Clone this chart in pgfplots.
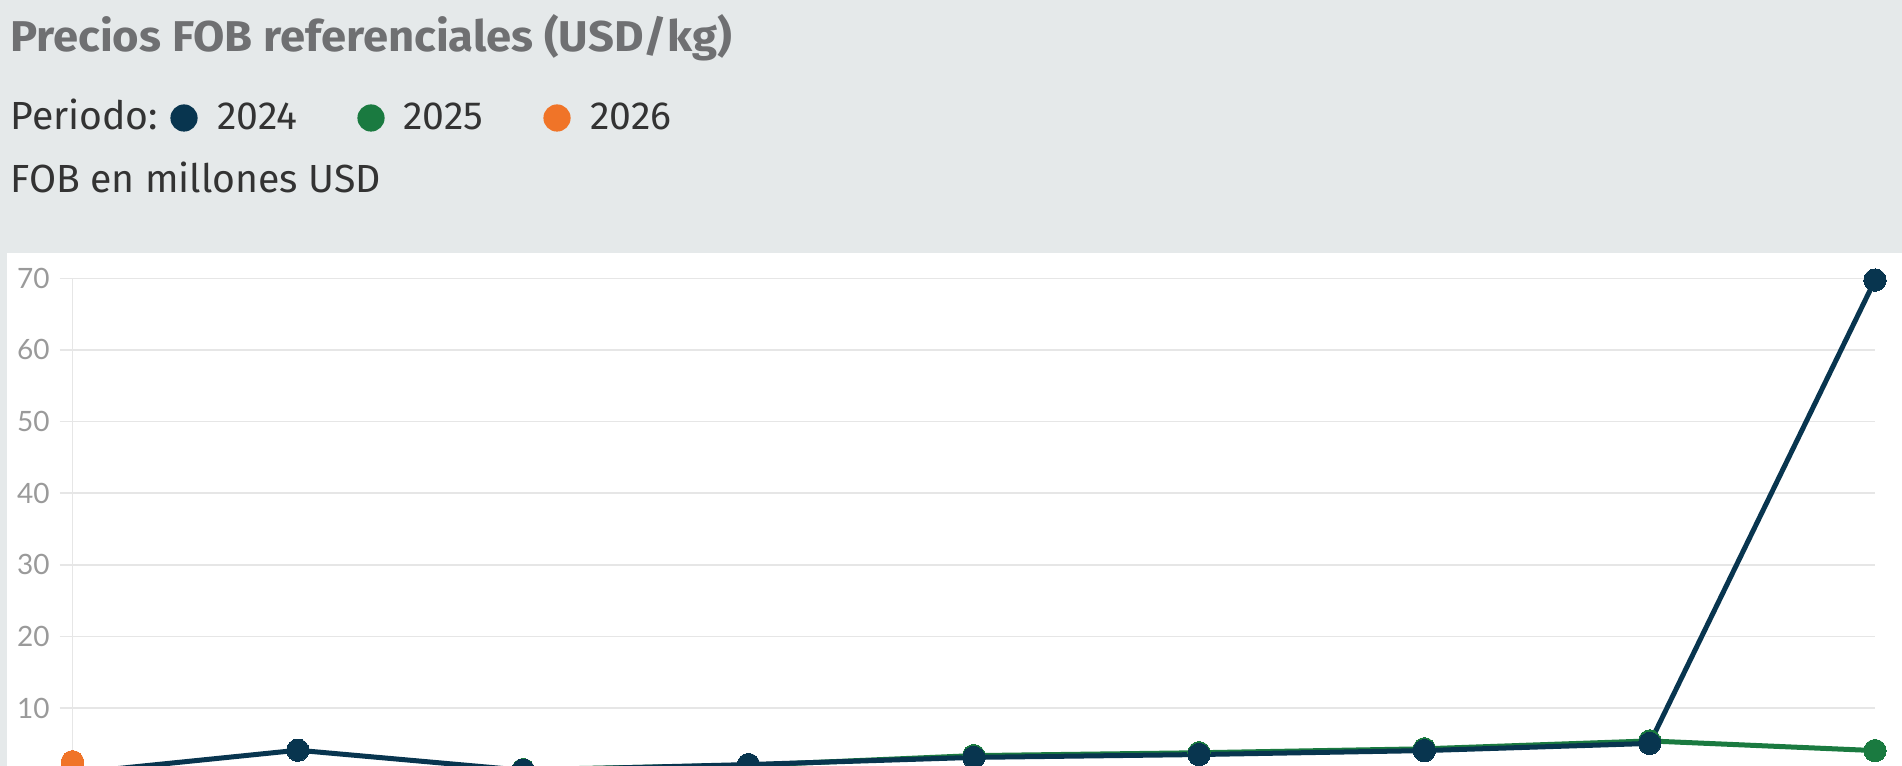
\documentclass[border=0pt]{standalone}
\usepackage{fontspec}
\setmainfont{Fira Sans}
\newfontfamily\tickfont{Lato}
\usepackage{graphicx}
\usepackage{pgfplots}
\pgfplotsset{compat=1.18}
\definecolor{bgc}{HTML}{E5E9EA}
\definecolor{navy}{HTML}{08354F}
\definecolor{grn}{HTML}{1A7A40}
\definecolor{org}{HTML}{F07428}
\definecolor{gridc}{HTML}{E6E6E6}
\definecolor{tickc}{HTML}{9A9A9A}
\definecolor{titlec}{HTML}{6F7072}
\definecolor{txtc}{HTML}{333333}
\begin{document}
\begin{tikzpicture}
\fill[bgc] (0,0) rectangle (951pt,383pt);
\fill[white] (3.5pt,0) rectangle (951pt,256.5pt);
% title
\node[anchor=base west, inner sep=0pt, text=titlec] at (4.9pt,357pt)
  {\resizebox{360.8pt}{18.5pt}{\bfseries Precios FOB referenciales (USD/kg)}};
% legend
\begin{scope}[every node/.style={anchor=base west, inner sep=0pt, text=txtc, font=\fontsize{19.6}{22}\selectfont}]
\node at (5pt,318pt) {Periodo:};
\fill[navy] (92pt,324pt) circle (6.8pt);
\node at (108.5pt,318pt) {2024};
\fill[grn] (185.5pt,324pt) circle (6.8pt);
\node at (201.5pt,318pt) {2025};
\fill[org] (278.5pt,324pt) circle (6.8pt);
\node at (295pt,318pt) {2026};
\node at (5pt,286.5pt) {FOB en millones USD};
\end{scope}
\begin{axis}[
  at={(36.25pt,-6.8pt)}, anchor=south west,
  scale only axis, width=901.25pt, height=250.65pt,
  xmin=0, xmax=8, ymin=0, ymax=70,
  axis x line=none,
  axis y line*=left,
  y axis line style={draw=gridc, line width=0.75pt, -},
  ytick={0,10,...,70},
  ymajorgrids,
  major grid style={draw=gridc, line width=0.75pt},
  tick align=outside,
  major tick length=6.25pt,
  ytick style={draw=gridc, line width=0.75pt},
  yticklabel style={text=tickc, font=\tickfont\fontsize{14}{16}\selectfont, inner sep=0pt, xshift=-5pt},
  /pgf/number format/assume math mode=true,
  clip=false,
  every axis plot/.append style={line width=2.5pt, mark=*, mark size=5.6pt},
]
\addplot[color=grn, mark options={fill=grn, draw=grn, line width=0pt}] coordinates {
(0,1.0) (1,0.3) (2,1.4) (3,2.0) (4,3.35) (5,3.75) (6,4.3) (7,5.4) (8,4.05)};
\addplot[color=navy, mark options={fill=navy, draw=navy, line width=0pt}] coordinates {
(0,0.9) (1,4.1) (2,1.3) (3,2.1) (4,3.1) (5,3.5) (6,4.05) (7,5.05) (8,69.75)};
\addplot[color=org, mark options={fill=org, draw=org, line width=0pt}] coordinates {
(0,2.5)};
\end{axis}
\pgfresetboundingbox
\useasboundingbox (0,0) rectangle (951pt,383pt);
\end{tikzpicture}
\end{document}
